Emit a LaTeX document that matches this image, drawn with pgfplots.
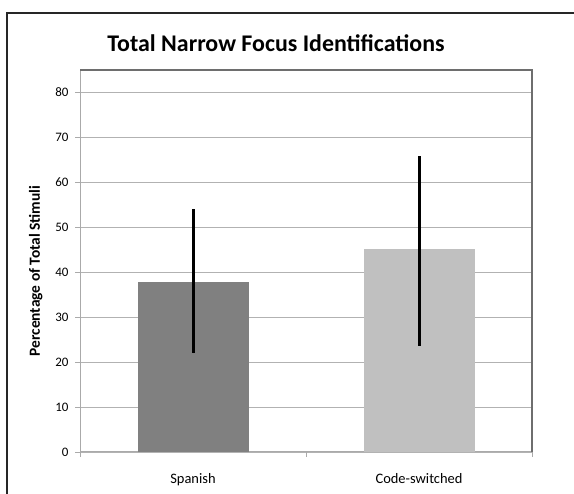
\documentclass[border=0pt]{standalone}
\usepackage{pgfplots}
\pgfplotsset{compat=1.18}
\usepackage{fontspec}
\setmainfont{Carlito}
\definecolor{barA}{RGB}{128,128,128}
\definecolor{barB}{RGB}{192,192,192}
\definecolor{gridc}{RGB}{178,178,178}
\definecolor{axc}{RGB}{170,170,170}
\definecolor{boxc}{RGB}{110,110,110}
\begin{document}
\begin{tikzpicture}[x=1bp,y=1bp]
\path[use as bounding box] (0,0) rectangle (574,494);
\draw[line width=2bp, black!85] (7,0) -- (7,481) -- (574,481);
\node[font=\bfseries\fontsize{24}{28}\selectfont] at (276,451) {Total Narrow Focus Identifications};
\begin{axis}[
  at={(80bp,42bp)}, anchor=south west,
  scale only axis, width=452bp, height=382bp,
  xmin=-0.5, xmax=1.5, ymin=0, ymax=85,
  ytick={0,10,...,80},
  xtick={0,1}, xticklabels={Spanish,Code-switched},
  minor xtick={-0.5,0.5,1.5},
  major x tick style={draw=none},
  tick align=outside,
  major tick length=5bp, minor tick length=5bp,
  tick style={axc, line width=0.8bp},
  ymajorgrids, grid style={gridc, line width=0.9bp},
  axis x line*=bottom, axis y line*=left,
  axis line style={axc, line width=1bp},
  every outer x axis line/.append style={-},
  every outer y axis line/.append style={-},
  /pgf/number format/assume math mode=true,
  yticklabel style={font=\fontsize{13}{15}\selectfont, xshift=-3bp},
  xticklabel style={font=\fontsize{14.5}{17}\selectfont, yshift=-13bp},
  ylabel={Percentage of Total Stimuli},
  ylabel style={font=\bfseries\fontsize{15.5}{18}\selectfont, at={(ticklabel cs:0.5)}, anchor=near ticklabel, xshift=-10bp, yshift=6bp},
  ybar, bar width=111bp, bar shift=0pt,
  clip=false,
]
\addplot[fill=barA, draw=none,
  error bars/.cd, y dir=both, y explicit,
  error mark=none, error bar style={line width=3bp, black}]
  coordinates {(0,37.9) += (0,16.2) -= (0,15.9)};
\addplot[fill=barB, draw=none,
  error bars/.cd, y dir=both, y explicit,
  error mark=none, error bar style={line width=3bp, black}]
  coordinates {(1,45.2) += (0,20.6) -= (0,21.6)};
\draw[boxc, line width=1.2bp] (rel axis cs:0,1) -- (rel axis cs:1,1) -- (rel axis cs:1,0);
\end{axis}
\end{tikzpicture}
\end{document}
